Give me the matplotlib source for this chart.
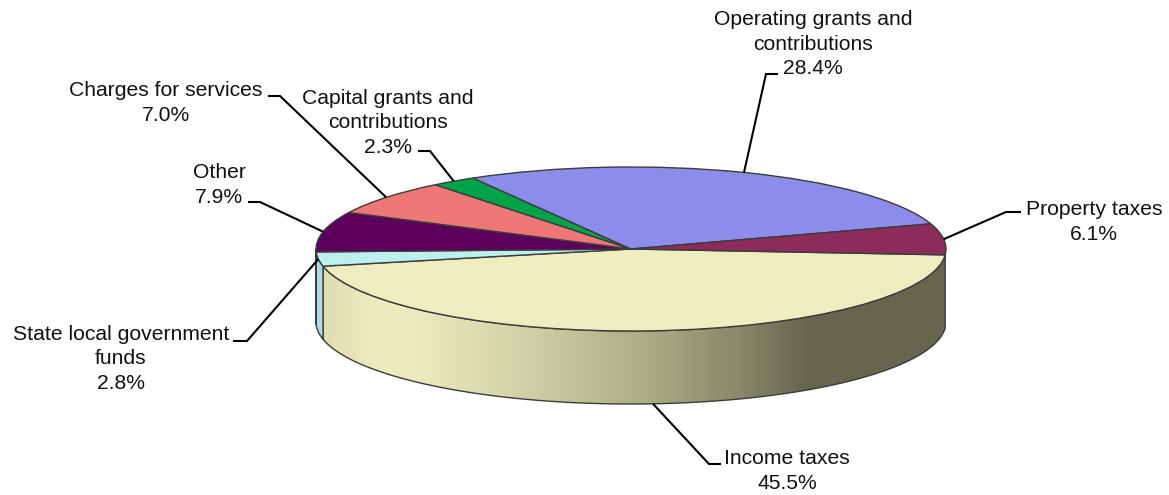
import numpy as np
import matplotlib
matplotlib.use("Agg")
import matplotlib.pyplot as plt
from matplotlib.colors import LinearSegmentedColormap
from matplotlib.patches import Polygon

plt.rcParams['font.family'] = ['Liberation Sans', 'DejaVu Sans']

# data
categories = ["Income taxes", "State local government\nfunds", "Other",
              "Charges for services", "Capital grants and\ncontributions",
              "Operating grants and\ncontributions", "Property taxes"]
shares = [45.5, 2.8, 7.9, 7.0, 2.3, 28.4, 6.1]
top_colors = ["#EDEDBF", "#BDEFEF", "#5C005C", "#EE7777", "#00A347", "#8C8CEB", "#8B2C5B"]
wall_colors = [None, "#ABDDE0", "#4A004A", "#C06060", "#008038", "#7070C0", "#6F2349"]

# layout, pixels
W, H = 1169, 495
CX, CY, RX, RY, DEPTH = 631, 249, 315, 82, 73
START = -4.1
label_pos = [(787, 471), (121, 359), (219, 185), (166, 103), (388, 123), (813, 44), (1094, 222)]
elbows = [[(709, 464), (721, 464)], [(247, 341), (233, 341)], [(260, 202), (248, 202)],
          [(280, 96), (268, 96)], [(430, 151), (418, 151)], [(766, 74), (778, 74)],
          [(1006, 212), (1021, 212)]]

fig = plt.figure(figsize=(W / 100, H / 100), dpi=100)
ax = fig.add_axes([0, 0, 1, 1])

def dx(px): return (px - CX) / RX
def dy(py): return (CY - py) / RY

depth = DEPTH / RY
fracs = np.array(shares) / 100
edges = START - np.concatenate([[0], np.cumsum(fracs)]) * 360
edge_c = "#3C3C3C"

# top face
ax.pie(shares, colors=top_colors, startangle=START, counterclock=False, radius=1,
       wedgeprops=dict(edgecolor=edge_c, linewidth=1.0, zorder=5))
ax.set_aspect('auto')

# side walls
grad = LinearSegmentedColormap.from_list("wall", [
    (0.00, "#DEDEB2"), (0.09, "#EDEDBF"), (0.16, "#E9E9BB"), (0.33, "#D0D0A6"),
    (0.50, "#B0B088"), (0.66, "#8A8A6C"), (0.78, "#66664F"), (1.00, "#66664F")])
for i, col in enumerate(wall_colors):
    a0, a1 = edges[i], edges[i + 1]
    hi = min(a0, 0)
    lo = max(a1, -180)
    if hi <= lo:
        continue
    t = np.radians(np.linspace(hi, lo, 300))
    xs, ys = np.cos(t), np.sin(t)
    poly = np.column_stack([np.r_[xs, xs[::-1]], np.r_[ys, ys[::-1] - depth]])
    if col is None:
        im = ax.imshow(np.linspace(0, 1, 512)[None, :], cmap=grad, aspect='auto', zorder=2,
                       extent=[xs.min(), xs.max(), -2.5, 1], interpolation='bilinear')
        clip = Polygon(poly, closed=True, transform=ax.transData)
        im.set_clip_path(clip)
        ax.add_patch(Polygon(poly, closed=True, fc='none', ec=edge_c, lw=1.0, zorder=3))
    else:
        ax.add_patch(Polygon(poly, closed=True, fc=col, ec=edge_c, lw=1.0, zorder=3))

# labels and leaders
mids = (edges[:-1] + edges[1:]) / 2
for i, (name, share) in enumerate(zip(categories, shares)):
    t = np.radians(mids[i])
    ax_x, ax_y = np.cos(t), np.sin(t)
    if np.sin(t) < -0.2:
        ax_y -= depth
    xs = [ax_x] + [dx(p[0]) for p in elbows[i]]
    ys = [ax_y] + [dy(p[1]) for p in elbows[i]]
    ax.plot(xs, ys, color='black', lw=1.5, zorder=6, solid_joinstyle='miter', solid_capstyle='butt')
    ax.text(dx(label_pos[i][0]), dy(label_pos[i][1]), f"{name}\n{share:.1f}%", ha='center', va='center',
            fontsize=15.2, color='#111111', linespacing=1.39, zorder=7)

ax.set_xlim(dx(0), dx(W))
ax.set_ylim(dy(H), dy(0))
ax.axis('off')
fig.savefig("out.png", dpi=100)
